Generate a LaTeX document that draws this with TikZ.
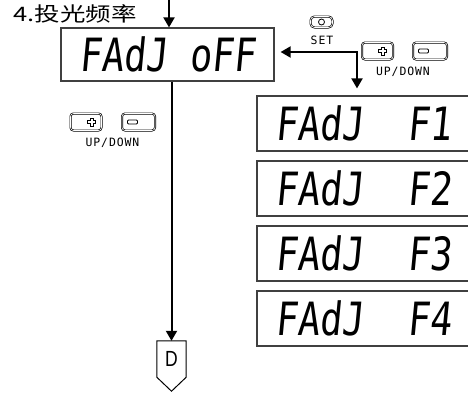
\documentclass[tikz,border=0pt]{standalone}
\usepackage{fontspec}
\setmainfont{Liberation Sans}
\newfontfamily\cjk{Noto Sans CJK SC}
\newfontfamily\seg{DejaVu Sans Mono}[FakeSlant=0.12]
\newfontfamily\lblfont{DejaVu Sans Mono}[LetterSpace=8]
\usetikzlibrary{arrows.meta,calc}
\newcommand\segtext[1]{\scalebox{0.80}[1]{\seg\fontsize{46}{46}\selectfont #1}}
\begin{document}
\begin{tikzpicture}[x=1bp,y=-1bp,
  disp/.style={draw=black!75, line width=1.2bp, minimum width=213bp, inner sep=0pt},
  arr/.style={line width=2bp, -{Triangle[width=11bp,length=10bp]}},
  arrboth/.style={line width=2bp, {Triangle[width=11bp,length=10bp]}-{Triangle[width=11bp,length=10bp]}},
  btn/.style={draw, double, double distance=0.6bp, line width=0.7bp, rounded corners=3bp,
    minimum width=31bp, minimum height=17bp, inner sep=0pt},
  lbl/.style={font=\lblfont\fontsize{11.5}{13}\selectfont, inner sep=0pt},
  glyph/.style={line width=0.8bp}]
\useasboundingbox (0,0) rectangle (468,398);

% title
\node[anchor=base west, inner sep=0pt] (title) at (13.5,21) {\scalebox{1.28}[1]{\cjk\fontsize{20}{24}\selectfont 4.投光频率}};

% displays
\node[disp, minimum height=53bp] (top) at (167.5,54.5) {\segtext{FAdJ oFF}};
\node[disp, minimum height=55bp] (b1) at (363.5,123.5) {\segtext{FAdJ~~F1}};
\node[disp, minimum height=55bp] (b2) at (363.5,188.5) {\segtext{FAdJ~~F2}};
\node[disp, minimum height=55bp] (b3) at (363.5,253.5) {\segtext{FAdJ~~F3}};
\node[disp, minimum height=55bp] (b4) at (363.5,318.5) {\segtext{FAdJ~~F4}};

% entry arrow
\coordinate (in) at (169,0);
\draw[arr] (in) -- (in |- top.north);

% SET key
\node[btn, minimum width=22bp, minimum height=11bp, rounded corners=4bp] (set) at (321.5,22) {};
\draw[glyph] (set.center) circle (3bp);
\node[lbl] (setlbl) at (322,40) {SET};

% SET arrow
\coordinate (corner) at (357,52);
\draw[arrboth, shorten <=6bp, shorten >=7bp] (corner -| top.east) -- (corner) -- (corner |- b1.north);

% UP/DOWN keys (right)
\node[btn] (p1) at (377.5,51) {};
\node[btn, minimum width=34bp] (m1) at (430,51) {};
\node[lbl] (ud1) at (403,72) {UP/DOWN};
\draw[glyph, shift={($(p1.center)+(5,0)$)}] (-1.5,-4) -- (1.5,-4) -- (1.5,-1.5) -- (4,-1.5) -- (4,1.5) -- (1.5,1.5) -- (1.5,4) -- (-1.5,4) -- (-1.5,1.5) -- (-4,1.5) -- (-4,-1.5) -- (-1.5,-1.5) -- cycle;
\draw[glyph, rounded corners=1bp] ($(m1.center)+(-11.5,-2)$) rectangle ($(m1.center)+(-1.5,2)$);

% UP/DOWN keys (left)
\node[btn] (p2) at (86,122) {};
\node[btn, minimum width=33bp] (m2) at (138.5,122) {};
\node[lbl] (ud2) at (112.5,143) {UP/DOWN};
\draw[glyph, shift={($(p2.center)+(5.5,0)$)}] (-1.5,-4) -- (1.5,-4) -- (1.5,-1.5) -- (4,-1.5) -- (4,1.5) -- (1.5,1.5) -- (1.5,4) -- (-1.5,4) -- (-1.5,1.5) -- (-4,1.5) -- (-4,-1.5) -- (-1.5,-1.5) -- cycle;
\draw[glyph, rounded corners=1bp] ($(m2.center)+(-11,-2)$) rectangle ($(m2.center)+(-1,2)$);

% D connector
\node[minimum width=29bp, minimum height=36bp, inner sep=0pt] (D) at (171.5,359)
  {\scalebox{0.8}[1]{\fontsize{22}{22}\selectfont D}};
\draw[line width=1bp] (D.north west) -- (D.south west) -- ($(D.south)+(0,14)$) -- (D.south east) -- (D.north east) -- cycle;
\draw[arr] (top.south -| D.north) -- (D.north);
\end{tikzpicture}
\end{document}
